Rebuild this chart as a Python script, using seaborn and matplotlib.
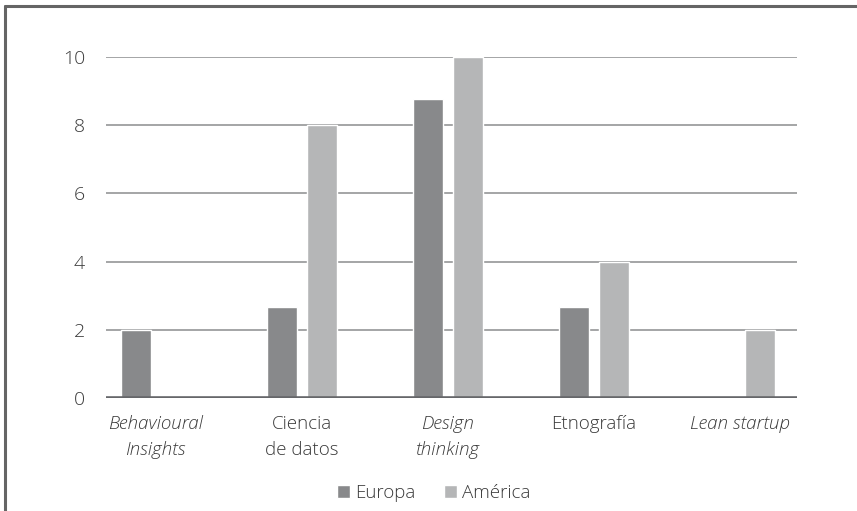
import pandas as pd
import numpy as np
import matplotlib.pyplot as plt
import seaborn as sns
from matplotlib.lines import Line2D
from matplotlib.patches import Patch

# datos
categorias = ["Behavioural\nInsights", "Ciencia\nde datos", "Design\nthinking", "Etnografía", "Lean startup"]
cursiva = [True, False, True, False, True]
europa = [2, 2.67, 8.77, 2.67, 0]
america = [0, 8, 10, 4, 2]
series = ["Europa", "América"]
colores = ["#88898b", "#b5b6b7"]

df = pd.DataFrame({
    "categoria": categorias * 2,
    "valor": europa + america,
    "region": ["Europa"] * len(categorias) + ["América"] * len(categorias),
})

sns.set_theme(style="white")
plt.rcParams["font.family"] = ["Open Sans", "DejaVu Sans"]

fig = plt.figure(figsize=(8.57, 5.11), dpi=100)
ax = fig.add_axes([0.1237, 0.2211, 0.8063, 0.6674])

sns.barplot(
    data=df, x="categoria", y="valor", hue="region",
    order=categorias, hue_order=series, palette=colores,
    width=0.55, gap=0.255, saturation=1, ax=ax, legend=False,
)

ax.set_ylim(0, 10)
ax.set_xlim(-0.34, 4.39)
ax.set_yticks(np.arange(0, 11, 2))
ax.yaxis.grid(True, color="#9d9e9f", linewidth=1.3)
ax.set_axisbelow(True)
ax.axhline(0, color="#66676a", linewidth=2.6, zorder=5)
for s in ax.spines.values():
    s.set_visible(False)

ax.set_xlabel("")
ax.set_ylabel("")
ax.tick_params(axis="y", length=0, pad=15, labelsize=14, labelcolor="#3a3a3a")
ax.tick_params(axis="x", length=0, pad=12, labelsize=13.5, labelcolor="#3a3a3a")
for lbl, it in zip(ax.get_xticklabels(), cursiva):
    lbl.set_linespacing(1.6)
    lbl.set_fontweight("light")
    if it:
        lbl.set_style("italic")
for lbl in ax.get_yticklabels():
    lbl.set_fontweight("light")

handles = [Patch(facecolor=c, label=n) for c, n in zip(colores, series)]
fig.legend(
    handles=handles, loc="center", bbox_to_anchor=(0.506, 0.035), ncol=2,
    frameon=False, handlelength=0.7, handleheight=0.7,
    handletextpad=0.3, columnspacing=1.5, labelcolor="#3a3a3a",
    prop={"weight": "light", "size": 13.5},
)

# marco
fig.add_artist(Line2D([0.0058, 1], [0.9883, 0.9883], transform=fig.transFigure, color="#656565", linewidth=2.2))
fig.add_artist(Line2D([0.0058, 0.0058], [0, 0.9883], transform=fig.transFigure, color="#656565", linewidth=2.2))

plt.savefig("out.png", dpi=100)
